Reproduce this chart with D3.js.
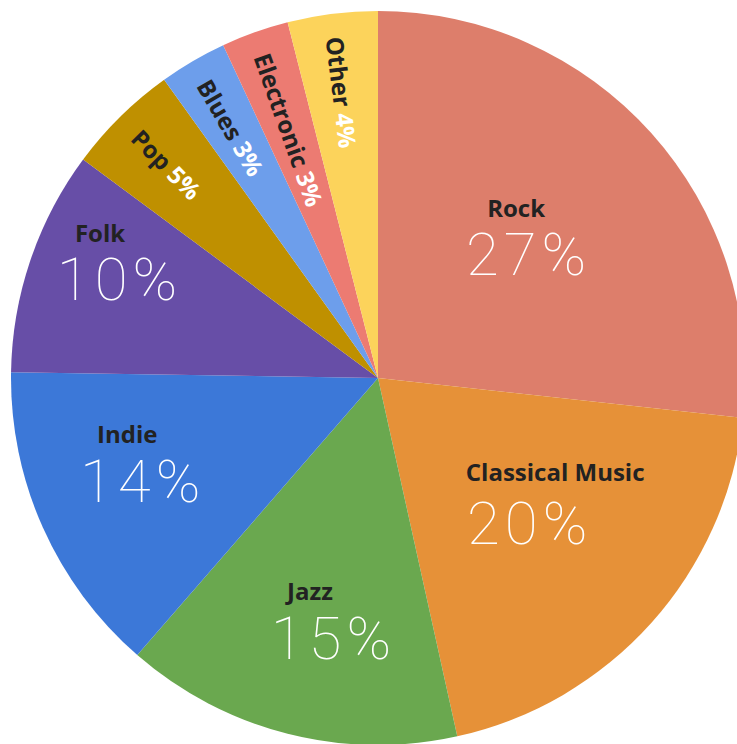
<!DOCTYPE html>
<html>
<head>
<meta charset="utf-8">
<script src="https://cdn.jsdelivr.net/npm/d3@7"></script>
<style>
  html, body { margin: 0; padding: 0; background: #ffffff; }
  svg { display: block; }
</style>
</head>
<body>
<svg id="chart" width="737" height="744"></svg>
<script>
// ---- data ----
const categories = ["Rock", "Classical Music", "Jazz", "Indie", "Folk", "Pop", "Blues", "Electronic", "Other"];
const values = [27, 20, 15, 14, 10, 5, 3, 3, 4];
const colors = ["#DD7E6B", "#E69138", "#6AA84F", "#3C78D8", "#674EA7", "#BF9000", "#6D9EEB", "#EC7B72", "#FCD35B"];

// ---- layout (not data) ----
const W = 737, H = 744;
const cx = 378, cy = 378, R = 367;
// big horizontal labels: percent glyph centre at polar (r, midAngle + da); name offset
const bigLabelLayout = {
  "Rock":            { r: 193, da: 2,   ndx: -10, ndy: -37 },
  "Classical Music": { r: 208, da: 2.3, ndx: 28,  ndy: -42 },
  "Jazz":            { r: 264, da: -4,  ndx: -21, ndy: -38 },
  "Indie":           { r: 259, da: 0.7, ndx: -13, ndy: -38 },
  "Folk":            { r: 279, da: 2,   ndx: -17, ndy: -37 }
};
const smallLabelStart = 344;
const pctSpacing = 5;

const data = categories.map((c, i) => ({ name: c, value: values[i], color: colors[i] }));

const svg = d3.select("#chart");
const g = svg.append("g").attr("transform", `translate(${cx},${cy})`);

const pie = d3.pie().value(d => d.value).sort(null).startAngle(0).endAngle(2 * Math.PI);
const arcs = pie(data);
const arc = d3.arc().innerRadius(0).outerRadius(R);

g.selectAll("path.slice")
  .data(arcs)
  .join("path")
  .attr("class", "slice")
  .attr("d", arc)
  .attr("fill", d => d.data.color);

const nameFont = "'Open Sans', 'Noto Sans', sans-serif";
const pctFont = "Roboto, Inter, Lato, sans-serif";

arcs.forEach(a => {
  const mid = (a.startAngle + a.endAngle) / 2;
  const L = bigLabelLayout[a.data.name];
  if (L) {
    const ang = mid + L.da * Math.PI / 180;
    const px = L.r * Math.sin(ang);
    const py = -L.r * Math.cos(ang);
    g.append("text")
      .attr("x", px + pctSpacing / 2).attr("y", py + 21)
      .attr("text-anchor", "middle")
      .style("font-family", pctFont)
      .style("font-weight", 100)
      .style("font-size", "60px")
      .style("letter-spacing", pctSpacing + "px")
      .attr("fill", "#ffffff")
      .text(a.data.value + "%");
    g.append("text")
      .attr("x", px + L.ndx).attr("y", py + L.ndy)
      .attr("text-anchor", "middle")
      .style("font-family", nameFont)
      .style("font-weight", 700)
      .style("font-size", "24px")
      .attr("fill", "#222222")
      .text(a.data.name);
  } else {
    const sx = smallLabelStart * Math.sin(mid);
    const sy = -smallLabelStart * Math.cos(mid);
    const rot = mid * 180 / Math.PI - 270;
    const t = g.append("text")
      .attr("transform", `translate(${sx},${sy}) rotate(${rot})`)
      .attr("text-anchor", "start")
      .attr("dominant-baseline", "central")
      .style("font-family", nameFont)
      .style("font-weight", 700)
      .style("font-size", "24px");
    t.append("tspan").attr("fill", "#222222").text(a.data.name + " ");
    t.append("tspan").attr("fill", "#ffffff").text(a.data.value + "%");
  }
});
</script>
</body>
</html>
